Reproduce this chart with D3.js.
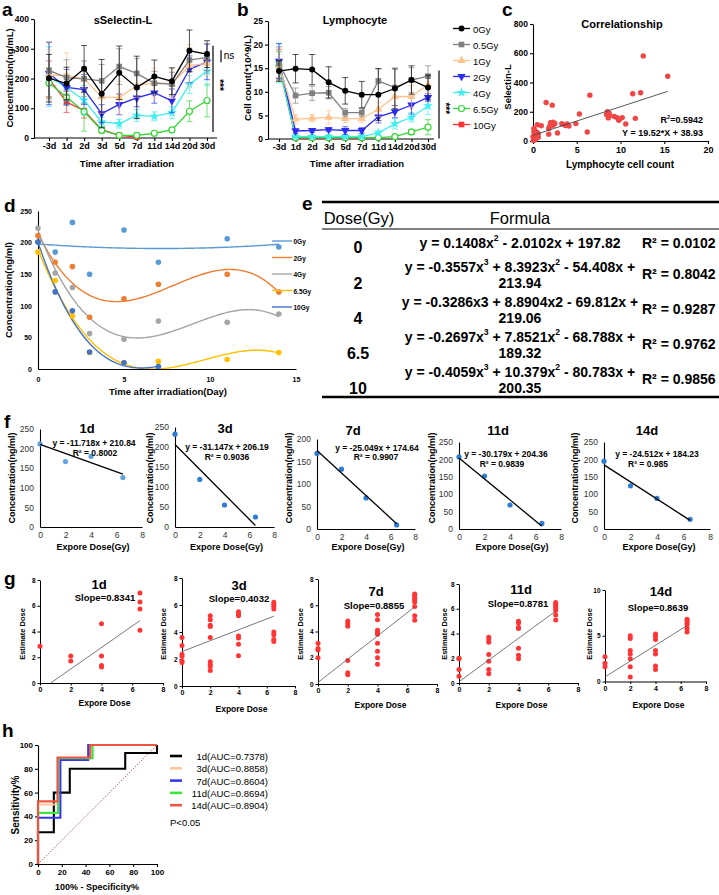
<!DOCTYPE html>
<html><head><meta charset="utf-8">
<script src="https://cdn.jsdelivr.net/npm/d3@7/dist/d3.min.js"></script>
<style>html,body{margin:0;padding:0;background:#fff}svg{display:block}</style>
</head><body>
<svg id="fig" width="719" height="895" xmlns="http://www.w3.org/2000/svg"></svg>
<script>
// ---------------- DATA ----------------
const timeLabels = ["-3d","1d","2d","3d","5d","7d","11d","14d","20d","30d"];
const doseLabels = ["0Gy","0.5Gy","1Gy","2Gy","4Gy","6.5Gy","10Gy"];
const doseColors = ["#000000","#808080","#FFC48E","#2B2BF2","#3CEFF2","#33D633","#FF3333"];
const doseShapes = ["circle","square","triUp","triDown","star","ocircle","square"];

// a: sSelectin-L (ng/mL), mean and SD
const selMean0  = [201,183,233,149,219,170,207,191,293,282];
const selSd0    = [80,55,78,115,90,105,55,45,70,45];
const selMean05 = [227,203,199,192,240,217,184,181,262,271];
const selSd05   = [95,60,60,55,60,50,40,40,40,45];
const selMean1  = [211,211,198,138,136,176,185,183,243,251];
const selSd1    = [85,75,30,55,55,40,50,50,70,40];
const selMean2  = [217,170,163,82,113,135,152,125,231,256];
const selSd2    = [105,60,50,30,35,30,35,40,45,60];
const selMean4  = [206,170,127,54,48,76,73,85,180,225];
const selSd4    = [100,45,50,15,15,20,15,20,30,50];
const selMean65 = [185,138,88,26,9,9,16,27,90,126];
const selSd65   = [50,25,65,10,5,8,5,5,35,55];
const selMean10 = [199,121,92,28,9,3];
const selSd10   = [60,35,25,10,5,5];
const selTicks  = [0,100,200,300,400];

// b: Lymphocyte (*10^9/L)
const lymMean0  = [14.4,14.9,14.7,12.0,10.2,9.4,9.4,10.7,12.5,10.9];
const lymSd0    = [2.2,3.0,3.2,3.3,2.8,2.8,5.5,4.3,3.0,2.6];
const lymMean05 = [16.0,9.2,9.7,9.8,5.6,5.6,12.3,10.9,12.5,13.3];
const lymSd05   = [3.5,1.6,1.5,1.3,0.9,0.9,2.6,3.8,2.6,2.2];
const lymMean1  = [15.6,4.2,4.4,4.6,4.3,4.3,6.3,9.0,9.0,11.5];
const lymSd1    = [3.2,1.0,0.8,1.4,0.8,0.8,1.5,2.0,2.3,1.8];
const lymMean2  = [16.5,1.7,1.8,2.0,1.8,1.8,4.7,5.8,7.2,8.8];
const lymSd2    = [3.7,0.5,0.4,0.4,0.8,0.6,1.3,1.3,1.9,0.8];
const lymMean4  = [16.1,0.5,0.5,0.5,0.5,0.5,1.3,3.2,4.6,7.0];
const lymSd4    = [4.2,0.2,0.2,0.2,0.2,0.2,0.4,1.1,1.0,1.8];
const lymMean65 = [15.5,0.3,0.3,0.3,0.3,0.3,0.3,0.5,1.5,2.5];
const lymSd65   = [3.0,0.1,0.1,0.1,0.1,0.1,0.1,0.3,0.5,1.6];
const lymMean10 = [16.0,0.2,0.2,0.2,0.2,0.2];
const lymSd10   = [3.0,0.1,0.1,0.1,0.1,0.1];
const lymTicks  = [0,5,10,15,20,25];

// c: correlation
const corrX = [12.6,15.4,11.4,12.3,6.5,1.5,2.2,5.3,8.5,8.7,8.6,9.3,9.6,9.9,10.2,10.6,11.7,6.2,4.9,3.9,3.7,4.1,3.3,2.5,2.0,2.3,1.8,1.8,2.8,0.95,0.5,0.1,0.2,0.4,0.3,0.6,0.1,0.25,0.45,0.15,0.35,0.05,0.55,0.2,0.3,2.3,8.4,9.8,0.0,0.6,1.9,8.8,0.1];
const corrY = [582,443,323,330,313,263,245,185,200,190,158,168,160,150,160,117,155,62,119,116,106,103,118,120,125,108,86,47,55,104,111,84,50,40,30,26,18,12,60,6,20,4,35,72,44,128,182,142,30,50,100,175,62];
const corrFit = [19.52, 38.93];   // slope, intercept
const corrR2 = "0.5942";
const corrXTicks = [0,5,10,15,20];
const corrYTicks = [0,200,400,600,800];

// d: concentration vs day, by dose
const dDoses = ["0Gy","2Gy","4Gy","6.5Gy","10Gy"];
const dColors = ["#5B9BD5","#ED7D31","#A5A5A5","#FFC000","#4472C4"];
const dDays = [0,1,2,3,5,7,11,14];
const dConc0  = [201,185,232,150,220,169,206,193];
const dConc2  = [211,169,162,82,111,134,150,122];
const dConc4  = [223,152,129,56,47,76,74,87];
const dConc65 = [185,140,84,26,10,12,15,26];
const dConc10 = [201,122,92,27,10,4];
const dXTicks = [0,5,10,15];
const dYTicks = [0,50,100,150,200,250];

// e: fitted formulas (coefficients x^3, x^2, x, const)
const eDose = ["0","2","4","6.5","10"];
const eLine1 = ["y = 0.1408x^2 - 2.0102x + 197.82",
                "y = -0.3557x^3 + 8.3923x^2 - 54.408x +",
                "y = -0.3286x3 + 8.8904x2 - 69.812x +",
                "y = -0.2697x^3 + 7.8521x^2 - 68.788x +",
                "y = -0.4059x^3 + 10.379x^2 - 80.783x +"];
const eLine2 = ["","213.94","219.06","189.32","200.35"];
const eR2 = ["0.0102","0.8042","0.9287","0.9762","0.9856"];
const eCoef0  = [0,0.1408,-2.0102,197.82];
const eCoef2  = [-0.3557,8.3923,-54.408,213.94];
const eCoef4  = [-0.3286,8.8904,-69.812,219.06];
const eCoef65 = [-0.2697,7.8521,-68.788,189.32];
const eCoef10 = [-0.4059,10.379,-80.783,200.35];
const eSpan = [14,14,14,14,7];

// f: concentration vs dose per day
const fDays = ["1d","3d","7d","11d","14d"];
const fDose = [0,2,4,6.5];
const fConc1  = [212,167,180,126];
const fConc3  = [232,119,55,25];
const fConc7  = [168,133,69,9];
const fConc11 = [207,152,69,16];
const fConc14 = [195,124,88,28];
const fSlope = [-11.718,-31.147,-25.049,-30.179,-24.512];
const fIntercept = [210.84,206.19,174.64,204.36,184.23];
const fR2 = ["0.8002","0.9036","0.9907","0.9839","0.985"];
const fYMax = [250,250,200,250,250];
const fXTicks = [0,2,4,6,8];

// g: estimated dose vs exposure dose, grouped by dose 0,2,4,6.5
const gDose = [0,2,4,6.5];
const gEst1  = [[2.85],[2.1,1.7],[4.6,2.1,1.35,1.25],[7.0,6.3,5.75,4.1]];
const gEst3  = [[3.6,3.0,2.35,2.2,1.85,1.75],[5.2,4.9,4.5,4.4,3.6,1.8,1.6,1.45,1.15],[5.5,5.35,5.2,3.7,3.55,3.1,2.25],[6.2,6.05,5.9,5.7,4.0,3.8,3.45,3.3]];
const gEst7  = [[3.1,2.7,2.6,2.0],[4.8,4.6,4.4,1.8,0.85,0.7],[5.3,4.9,4.1,3.95,3.8,3.1,2.5,2.0,1.5],[6.85,6.7,6.55,6.4,6.25,5.9,5.2,4.85]];
const gEst11 = [[2.0,1.95,1.1,0.55],[3.7,3.5,3.3,2.3,1.75,1.1,0.75],[5.0,4.85,4.5,4.4,2.8,2.25,1.95],[6.5,6.35,6.2,6.05,5.85,5.5,5.1]];
const gEst14 = [[2.7,2.0,1.6],[5.0,4.7,3.4,3.0,2.5,1.6,0.5],[5.2,4.95,4.6,3.4,3.0,1.7,1.3],[6.8,6.6,6.4,6.2,5.8,5.4]];
const gSlope = [0.8341,0.4032,0.8855,0.8781,0.8639];
const gIntercept = [-0.58,2.55,0.12,0.10,0.50];
const gYMax = [8,8,8,8,10];

// h: ROC curves (100% - specificity, sensitivity)
const rocLabels = ["1d(AUC=0.7378)","3d(AUC=0.8858)","7d(AUC=0.8604)","11d(AUC=0.8694)","14d(AUC=0.8904)"];
const rocColors = ["#000000","#FFC89E","#3535F5","#3CE63C","#EE5540"];
const roc1x  = [0,0,13.3,13.3,26.7,26.7,73.3,73.3,100,100];
const roc1y  = [0,26.7,26.7,60,60,80,80,93.3,93.3,100];
const roc3x  = [0,0,16.7,16.7,44.4,44.4,100];
const roc3y  = [0,50,50,88.9,88.9,100,100];
const roc7x  = [0,0,18.8,18.8,42.2,42.2,100];
const roc7y  = [0,38.9,38.9,87.5,87.5,100,100];
const roc11x = [0,0,16.9,16.9,45.9,45.9,100];
const roc11y = [0,43,43,88.9,88.9,100,100];
const roc14x = [0,0,16.4,16.4,43.8,43.8,100];
const roc14y = [0,52.6,52.6,89.5,89.5,100,100];
const rocTicks = [0,20,40,60,80,100];

// ---------------- HELPERS ----------------
const FONT = '"Liberation Sans", Arial, Helvetica, sans-serif';
const svg = d3.select("#fig").attr("font-family", FONT);
svg.append("rect").attr("width",719).attr("height",895).attr("fill","#fff");

function T(g,x,y,s,o={}){
  const size=o.size||9;
  const t=g.append("text").attr("x",x).attr("y",y)
    .attr("font-size",size).attr("font-weight",o.weight||"bold")
    .attr("text-anchor",o.anchor||"middle").attr("dominant-baseline","central")
    .attr("fill",o.fill||"#000");
  if(o.rot) t.attr("transform",`rotate(${o.rot},${x},${y})`);
  if(o.raw){ t.text(s); return t; }
  String(s).split(/\^(\d)/).forEach((p,i)=>{
    if(i%2===0){ if(p) t.append("tspan").text(p); }
    else t.append("tspan").attr("baseline-shift","super").attr("font-size",size*0.62).text(p);
  });
  return t;
}
function styleAxis(a,size,weight,fill,lw){
  a.attr("font-family",FONT).attr("font-size",size);
  a.selectAll(".domain").attr("stroke","#000").attr("stroke-width",lw||1.1);
  a.selectAll(".tick line").attr("stroke","#000").attr("stroke-width",lw||1.1);
  a.selectAll(".tick text").attr("font-weight",weight).attr("fill",fill||"#000").attr("font-size",size);
}
function marker(g,shape,cx,cy,color,scale=1){
  if(shape==="circle"){ g.append("circle").attr("cx",cx).attr("cy",cy).attr("r",3*scale).attr("fill",color); return; }
  if(shape==="ocircle"){ g.append("circle").attr("cx",cx).attr("cy",cy).attr("r",3*scale).attr("fill","#fff").attr("stroke",color).attr("stroke-width",1.2); return; }
  const types={square:d3.symbolSquare,triUp:d3.symbolTriangle,triDown:d3.symbolTriangle,star:d3.symbolStar};
  const size={square:32,triUp:30,triDown:30,star:30}[shape]*scale*scale;
  g.append("path").attr("d",d3.symbol(types[shape],size)())
   .attr("transform",`translate(${cx},${cy})${shape==="triDown"?" rotate(180)":""}`)
   .attr("fill",color);
}
function panelLetter(x,y,s){ svg.append("text").attr("x",x).attr("y",y).attr("font-size",19).attr("font-weight","bold").text(s); }

// ---------------- a & b: time courses ----------------
function timePanel(cfg){
  const g=svg.append("g");
  const x=d3.scalePoint().domain(timeLabels).range(cfg.xr);
  const y=d3.scaleLinear().domain(cfg.yd).range(cfg.yr);
  const ya=g.append("g").attr("transform",`translate(${cfg.ax},0)`)
    .call(d3.axisLeft(y).tickValues(cfg.ticks).tickSize(3).tickSizeOuter(0).tickPadding(2));
  styleAxis(ya,8.5,"bold");
  const xa=g.append("g").attr("transform",`translate(0,${cfg.yr[0]})`)
    .call(d3.axisBottom(x).tickSize(3).tickPadding(2));
  xa.select(".domain").remove();
  styleAxis(xa,9,"bold");
  g.append("line").attr("x1",cfg.ax).attr("x2",cfg.xEnd).attr("y1",cfg.yr[0]).attr("y2",cfg.yr[0]).attr("stroke","#000").attr("stroke-width",1.1);
  for(let s=cfg.means.length-1;s>=0;s--){
    const m=cfg.means[s], sd=cfg.sds[s], col=doseColors[s];
    const sg=g.append("g");
    m.forEach((v,i)=>{
      const cx=x(timeLabels[i]);
      const y1=y(v+sd[i]), y2=y(Math.max(cfg.yd[0],v-sd[i]));
      sg.append("line").attr("x1",cx).attr("x2",cx).attr("y1",y1).attr("y2",y2).attr("stroke",col).attr("stroke-width",0.9).attr("opacity",0.75);
      [y1,y2].forEach(yy=>sg.append("line").attr("x1",cx-3).attr("x2",cx+3).attr("y1",yy).attr("y2",yy).attr("stroke",col).attr("stroke-width",0.9).attr("opacity",0.75));
    });
    sg.append("path").datum(m).attr("fill","none").attr("stroke",col).attr("stroke-width",1.3)
      .attr("d",d3.line().x((v,i)=>x(timeLabels[i])).y(v=>y(v)));
    m.forEach((v,i)=>marker(sg,doseShapes[s],x(timeLabels[i]),y(v),col));
  }
  T(g,cfg.titleX,20,cfg.title,{size:11});
  T(g,cfg.ytX,cfg.ytY,cfg.ytitle,{size:9.5,rot:-90,raw:true});
  T(g,cfg.xtX,163,"Time after irradiation",{size:9.5});
  return {g,x,y};
}
const A=timePanel({xr:[49,207],yd:[0,400],yr:[138,19],ax:34,xEnd:217,ticks:selTicks,
  means:[selMean0,selMean05,selMean1,selMean2,selMean4,selMean65,selMean10],
  sds:[selSd0,selSd05,selSd1,selSd2,selSd4,selSd65,selSd10],
  title:"sSelectin-L",titleX:123,ytitle:"Concentration(ng/mL)",ytX:9,ytY:78,xtX:127});
// significance a
A.g.append("line").attr("x1",213).attr("x2",213).attr("y1",A.y(310)).attr("y2",A.y(20)).attr("stroke","#000").attr("stroke-width",1.2);
A.g.append("line").attr("x1",221).attr("x2",221).attr("y1",A.y(295)).attr("y2",A.y(255)).attr("stroke","#000").attr("stroke-width",1.2);
T(A.g,229,A.y(278),"ns",{size:10,weight:"normal"});
T(A.g,219.5,A.y(178),"***",{size:10,rot:90});
panelLetter(2,16,"a");

const B=timePanel({xr:[279,428],yd:[0,25],yr:[139,21],ax:268,xEnd:434,ticks:lymTicks,
  means:[lymMean0,lymMean05,lymMean1,lymMean2,lymMean4,lymMean65,lymMean10],
  sds:[lymSd0,lymSd05,lymSd1,lymSd2,lymSd4,lymSd65,lymSd10],
  title:"Lymphocyte",titleX:355,ytitle:"Cell count(*10^9/L)",ytX:247,ytY:78,xtX:357});
B.g.append("line").attr("x1",439).attr("x2",439).attr("y1",B.y(14.5)).attr("y2",B.y(0.1)).attr("stroke","#000").attr("stroke-width",1.2);
T(B.g,446,B.y(6.5),"***",{size:10,rot:90});
panelLetter(237,16,"b");
// legend b
doseLabels.forEach((d,i)=>{
  const yy=28.5+i*16;
  svg.append("line").attr("x1",453).attr("x2",470).attr("y1",yy).attr("y2",yy).attr("stroke",doseColors[i]).attr("stroke-width",1.3);
  marker(svg,doseShapes[i],461.5,yy,doseColors[i]);
  T(svg,473,yy,d,{size:9.5,weight:"normal",anchor:"start"});
});

// ---------------- c ----------------
(function(){
  const g=svg.append("g");
  const x=d3.scaleLinear().domain([0,20]).range([533,708]);
  const y=d3.scaleLinear().domain([0,800]).range([141,24]);
  const ya=g.append("g").attr("transform","translate(533,0)").call(d3.axisLeft(y).tickValues(corrYTicks).tickSize(3).tickSizeOuter(0).tickPadding(2));
  styleAxis(ya,8.5,"bold");
  const xa=g.append("g").attr("transform","translate(0,141)").call(d3.axisBottom(x).tickValues(corrXTicks).tickSize(3).tickSizeOuter(0).tickPadding(3));
  styleAxis(xa,9,"bold");
  corrX.forEach((v,i)=>g.append("circle").attr("cx",x(v)).attr("cy",y(corrY[i])).attr("r",2.7).attr("fill","#F04646"));
  g.append("line").attr("x1",x(0)).attr("x2",x(15.4)).attr("y1",y(corrFit[1])).attr("y2",y(corrFit[0]*15.4+corrFit[1])).attr("stroke","#444").attr("stroke-width",0.9);
  T(g,622,24,"Correlationship",{size:11});
  T(g,507,87,"Selectin-L",{size:9.5,rot:-90});
  T(g,620,164,"Lymphocyte cell count",{size:10});
  T(g,703,120,"R^2=" + corrR2,{size:9,anchor:"end"});
  T(g,703,133,`Y = ${corrFit[0]}*X + ${corrFit[1]}`,{size:9,anchor:"end"});
})();
panelLetter(502,16,"c");

// ---------------- d ----------------
(function(){
  const g=svg.append("g");
  const x=d3.scaleLinear().domain([0,15]).range([38,296]);
  const y=d3.scaleLinear().domain([0,250]).range([369,211]);
  const ya=g.append("g").attr("transform","translate(38,0)").call(d3.axisLeft(y).tickValues(dYTicks).tickSize(0).tickPadding(6));
  styleAxis(ya,7,"bold");
  const xa=g.append("g").attr("transform","translate(0,369)").call(d3.axisBottom(x).tickValues(dXTicks).tickSize(0).tickPadding(8));
  styleAxis(xa,7,"bold");
  g.append("clipPath").attr("id","dclip").append("rect").attr("x",38).attr("y",200).attr("width",262).attr("height",169);
  const coefs=[eCoef0,eCoef2,eCoef4,eCoef65,eCoef10];
  const concs=[dConc0,dConc2,dConc4,dConc65,dConc10];
  coefs.forEach((c,k)=>{
    const xs=d3.range(0,eSpan[k]+0.001,0.1);
    g.append("path").datum(xs).attr("clip-path","url(#dclip)").attr("fill","none").attr("stroke",dColors[k]).attr("stroke-width",1.4)
      .attr("d",d3.line().x(t=>x(t)).y(t=>y(Math.max(0,((c[0]*t+c[1])*t+c[2])*t+c[3]))));
  });
  concs.forEach((arr,k)=>arr.forEach((v,i)=>g.append("circle").attr("cx",x(dDays[i])).attr("cy",y(v)).attr("r",2.8).attr("fill",dColors[k])));
  T(g,8,290,"Concentration(ng/ml)",{size:9.5,rot:-90});
  T(g,168,391,"Time after irradiation(Day)",{size:9.5});
  dDoses.forEach((d,i)=>{
    const yy=241+i*16.5;
    g.append("line").attr("x1",272).attr("x2",292).attr("y1",yy).attr("y2",yy).attr("stroke",dColors[i]).attr("stroke-width",1.4);
    T(g,293.5,yy,d,{size:6.5,anchor:"start"});
  });
})();
panelLetter(4,212,"d");

// ---------------- e ----------------
(function(){
  const g=svg.append("g");
  g.append("line").attr("x1",322).attr("x2",719).attr("y1",202).attr("y2",202).attr("stroke","#000").attr("stroke-width",2.6);
  g.append("line").attr("x1",322).attr("x2",719).attr("y1",229).attr("y2",229).attr("stroke","#000").attr("stroke-width",1.1);
  g.append("line").attr("x1",322).attr("x2",719).attr("y1",397).attr("y2",397).attr("stroke","#000").attr("stroke-width",2.6);
  T(g,359,218,"Dose(Gy)",{size:16.5,weight:"normal"});
  T(g,520,218,"Formula",{size:16.5,weight:"normal"});
  eDose.forEach((d,i)=>{
    if(i===0){
      T(g,358,247,d,{size:16});
      T(g,520,243,eLine1[0],{size:14});
      T(g,642,243,"R² = "+eR2[0],{size:14,anchor:"start"});
    } else {
      const top=267+(i-1)*35;
      T(g,520,top,eLine1[i],{size:14});
      T(g,520,top+15.5,eLine2[i],{size:14});
      T(g,358,top+15.5,d,{size:16});
      T(g,642,top+6.5,"R² = "+eR2[i],{size:14,anchor:"start"});
    }
  });
})();
panelLetter(302,210,"e");

// ---------------- f ----------------
const fLayout=[
  {ax:40, x8:142,y0:527,yTop:429,tx:87, ty:428,ex:94, ey:443,rx:95, ry:453,ytx:12},
  {ax:175,x8:274,y0:527,yTop:427,tx:225,ty:428,ex:227,ey:447,rx:227,ry:457,ytx:150},
  {ax:317,x8:415,y0:529,yTop:439,tx:353,ty:430,ex:377,ey:448,rx:376,ry:457,ytx:289},
  {ax:459,x8:561,y0:529,yTop:442,tx:498,ty:430,ex:506,ey:454,rx:502,ry:464,ytx:432},
  {ax:604,x8:710,y0:529,yTop:442,tx:647,ty:430,ex:657,ey:454,rx:648,ry:464,ytx:575}];
const fConc=[fConc1,fConc3,fConc7,fConc11,fConc14];
const fPtColors=["#5FA3E0","#2F7CD3","#2F7CD3","#2F7CD3","#2F7CD3"];
fLayout.forEach((L,k)=>{
  const g=svg.append("g");
  const x=d3.scaleLinear().domain([0,8]).range([L.ax,L.x8]);
  const y=d3.scaleLinear().domain([0,fYMax[k]]).range([L.y0,L.yTop]);
  const ya=g.append("g").attr("transform",`translate(${L.ax},0)`).call(d3.axisLeft(y).ticks(5).tickSize(0).tickPadding(6));
  styleAxis(ya,8.5,"normal","#333");
  const xa=g.append("g").attr("transform",`translate(0,${L.y0})`).call(d3.axisBottom(x).tickValues(fXTicks).tickSize(0).tickPadding(5));
  styleAxis(xa,8.5,"normal","#333");
  fConc[k].forEach((v,i)=>g.append("circle").attr("cx",x(fDose[i])).attr("cy",y(v)).attr("r",2.6).attr("fill",fPtColors[k]));
  const xEnd=Math.min(6.5,-fIntercept[k]/fSlope[k]);
  g.append("line").attr("x1",x(0)).attr("x2",x(xEnd)).attr("y1",y(fIntercept[k])).attr("y2",y(fSlope[k]*xEnd+fIntercept[k])).attr("stroke","#000").attr("stroke-width",1.3);
  T(g,L.tx,L.ty,fDays[k],{size:13});
  T(g,L.ex,L.ey,`y = ${fSlope[k]}x + ${fIntercept[k]}`,{size:8.5});
  T(g,L.rx,L.ry,"R² = "+fR2[k],{size:8.5});
  T(g,L.ytx,478,"Concentration(ng/ml)",{size:9,rot:-90});
  T(g,(L.ax+L.x8)/2+2,547,"Expore Dose(Gy)",{size:9});
});
panelLetter(4,428,"f");

// ---------------- g ----------------
const gLayout=[
  {ax:40, x8:163,y0:683,yTop:580,tx:99, ty:583.5,sx:105,sy:596.5,ytx:22, xt:703},
  {ax:182,x8:295,y0:686,yTop:578,tx:239,ty:584.5,sx:239,sy:597.5,ytx:163,xt:709},
  {ax:318,x8:437,y0:684,yTop:579,tx:376,ty:590.5,sx:374,sy:605,ytx:300,xt:705},
  {ax:459,x8:578,y0:683,yTop:584,tx:521,ty:588.5,sx:518,sy:602.5,ytx:444,xt:705},
  {ax:605,x8:706,y0:681.5,yTop:590,tx:661,ty:590.5,sx:658,sy:607,ytx:589,xt:705}];
const gEst=[gEst1,gEst3,gEst7,gEst11,gEst14];
gLayout.forEach((L,k)=>{
  const g=svg.append("g");
  const x=d3.scaleLinear().domain([0,8]).range([L.ax,L.x8]);
  const y=d3.scaleLinear().domain([0,gYMax[k]]).range([L.y0,L.yTop]);
  const yt=gYMax[k]===10?[0,5,10]:[0,2,4,6,8];
  const ya=g.append("g").attr("transform",`translate(${L.ax},0)`).call(d3.axisLeft(y).tickValues(yt).tickSize(2.5).tickSizeOuter(0).tickPadding(2));
  styleAxis(ya,6.5,"bold","#000",1);
  const xa=g.append("g").attr("transform",`translate(0,${L.y0})`).call(d3.axisBottom(x).tickValues(fXTicks).tickSize(2.5).tickSizeOuter(0).tickPadding(2));
  styleAxis(xa,7,"bold","#000",1);
  gEst[k].forEach((arr,j)=>arr.forEach(v=>g.append("circle").attr("cx",x(gDose[j])).attr("cy",y(v)).attr("r",2.5).attr("fill","#FF3535")));
  const x0=Math.max(0,-gIntercept[k]/gSlope[k]);
  g.append("line").attr("x1",x(x0)).attr("x2",x(6.5)).attr("y1",y(gSlope[k]*x0+gIntercept[k])).attr("y2",y(gSlope[k]*6.5+gIntercept[k])).attr("stroke","#555").attr("stroke-width",0.8);
  T(g,L.tx,L.ty,fDays[k],{size:13});
  T(g,L.sx,L.sy,"Slope="+gSlope[k],{size:9.5});
  T(g,L.ytx,634,"Estimate Dose",{size:7.5,rot:-90});
  T(g,(L.ax+L.x8)/2+3,L.xt,"Expore Dose",{size:8.5});
});
panelLetter(4,585,"g");

// ---------------- h ----------------
(function(){
  const g=svg.append("g");
  const x=d3.scaleLinear().domain([0,100]).range([38,157]);
  const y=d3.scaleLinear().domain([0,100]).range([864,745]);
  const ya=g.append("g").attr("transform","translate(38,0)").call(d3.axisLeft(y).tickValues(rocTicks).tickSize(3).tickSizeOuter(0).tickPadding(2));
  styleAxis(ya,8,"bold");
  const xa=g.append("g").attr("transform","translate(0,864)").call(d3.axisBottom(x).tickValues(rocTicks).tickSize(3).tickSizeOuter(0).tickPadding(2));
  styleAxis(xa,8,"bold");
  g.append("line").attr("x1",x(0)).attr("y1",y(0)).attr("x2",x(100)).attr("y2",y(100)).attr("stroke","#F03030").attr("stroke-width",0.9).attr("stroke-dasharray","1.2,1.6");
  const xs=[roc1x,roc3x,roc7x,roc11x,roc14x], ys=[roc1y,roc3y,roc7y,roc11y,roc14y];
  xs.forEach((xx,k)=>{
    g.append("path").datum(xx.map((v,i)=>[v,ys[k][i]])).attr("fill","none").attr("stroke",rocColors[k]).attr("stroke-width",2.1)
      .attr("d",d3.line().x(p=>x(p[0])).y(p=>y(p[1])));
  });
  rocLabels.forEach((s,i)=>{
    const yy=756+i*12.3;
    g.append("line").attr("x1",170).attr("x2",182).attr("y1",yy).attr("y2",yy).attr("stroke",rocColors[i]).attr("stroke-width",2.6);
    T(g,268,yy,s,{size:9.5,weight:"normal",anchor:"end"});
  });
  T(g,170,822,"P<0.05",{size:9.5,weight:"normal",anchor:"start"});
  T(g,15,805,"Sensitivity%",{size:10,rot:-90});
  T(g,97,887,"100% - Specificity%",{size:9});
})();
panelLetter(2,737,"h");
</script>
</body></html>
